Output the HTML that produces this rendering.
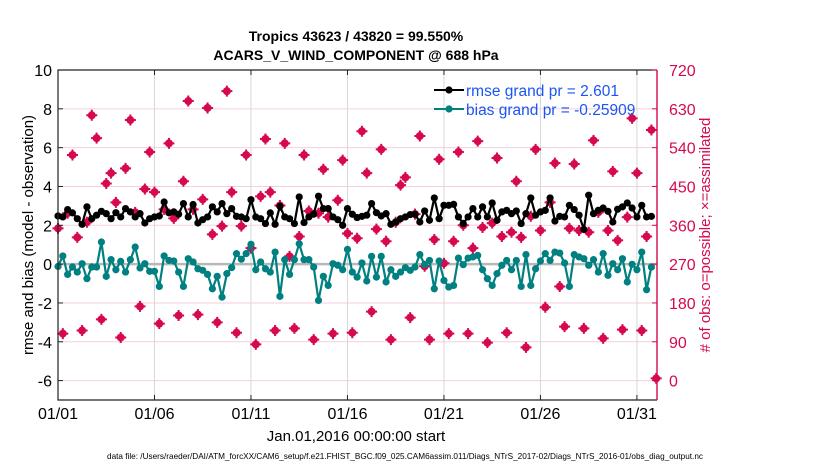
<!DOCTYPE html>
<html><head><meta charset="utf-8"><style>
body{margin:0;background:#fff;}
svg{display:block;font-family:"Liberation Sans",Arial,sans-serif;}
</style></head><body>
<svg id="chart" width="830" height="470" viewBox="0 0 830 470">
<text x="356" y="41" text-anchor="middle" font-size="14" font-weight="bold">Tropics 43623 / 43820 = 99.550%</text>
<text x="356" y="60" text-anchor="middle" font-size="14" font-weight="bold">ACARS_V_WIND_COMPONENT @ 688 hPa</text>
<g id="grid"></g>
<g id="marks"></g>
<g id="axes"></g>
<text transform="translate(33,235) rotate(-90)" text-anchor="middle" font-size="15">rmse and bias (model - observation)</text>
<text transform="translate(710,235) rotate(-90)" text-anchor="middle" font-size="15" fill="#d6094f"># of obs: o=possible; ×=assimilated</text>
<text x="356" y="441" text-anchor="middle" font-size="15">Jan.01,2016 00:00:00 start</text>
<text x="405" y="459" text-anchor="middle" font-size="8.2" textLength="596" lengthAdjust="spacingAndGlyphs">data file: /Users/raeder/DAI/ATM_forcXX/CAM6_setup/f.e21.FHIST_BGC.f09_025.CAM6assim.011/Diags_NTrS_2017-02/Diags_NTrS_2016-01/obs_diag_output.nc</text>
<g>
<line x1="434" y1="90" x2="464" y2="90" stroke="#000" stroke-width="2"/>
<circle cx="449" cy="90" r="3.6" fill="#000"/>
<text x="466" y="96" font-size="15.5" fill="#1a55f5">rmse grand pr = 2.601</text>
<line x1="434" y1="109" x2="464" y2="109" stroke="#008080" stroke-width="2"/>
<circle cx="449" cy="109" r="3.6" fill="#008080"/>
<text x="466" y="115" font-size="15.5" fill="#1a55f5">bias grand pr = -0.25909</text>
</g>
</svg>
<script>
const rmse=[2.48,2.43,2.81,2.64,2.34,2.05,2.95,2.34,2.52,2.72,2.6,2.34,2.65,2.43,2.86,2.69,2.43,2.6,2.12,2.34,2.43,2.48,3.2,2.64,
2.69,2.57,3.12,2.43,3.07,2.12,2.29,2.43,2.95,2.69,3.12,2.6,2.86,2.46,2.43,2.34,3.32,2.43,2.34,2.09,2.64,2.05,2.98,2.43,2.34,2.09,
3.46,2.14,2.43,2.57,3.5,2.86,2.86,2.43,2.29,2.0,2.86,2.57,2.4,2.46,2.52,3.12,2.65,2.48,2.6,2.05,2.17,2.34,2.43,2.55,2.57,
2.17,2.74,2.26,3.41,2.34,3.03,3.03,3.08,2.43,2.09,2.43,2.86,2.43,2.95,2.43,3.15,2.26,2.69,2.77,2.6,2.74,2.09,2.6,3.41,2.52,
2.69,2.77,3.41,2.22,2.46,2.43,3.03,2.81,2.52,1.79,3.55,2.6,2.77,2.89,2.72,2.17,2.83,2.95,3.15,2.89,2.43,3.03,2.43,2.46];
const bias=[-0.12,0.42,-0.53,-0.15,-0.41,0.02,-0.75,-0.15,-0.15,1.14,-0.63,0.23,-0.29,0.14,-0.41,0.23,0.88,-0.2,0.02,-0.37,-0.37,-1.15,0.42,0.19,
0.16,-0.41,-1.15,0.28,0.11,-0.24,-0.32,-0.53,-1.27,-0.63,-1.7,-0.49,-0.18,0.54,0.25,0.54,1.02,-0.29,0.11,-0.24,-0.41,0.62,-1.66,0.23,-0.53,0.23,
1.05,0.23,0.23,-0.15,-1.87,-0.63,-1.1,0.02,-0.06,-0.29,0.76,-0.41,-0.67,0.06,-0.87,0.4,-0.67,0.4,-0.92,-0.29,-0.63,-0.41,-0.18,-0.32,-0.15,
0.49,-0.03,0.19,-1.27,0.16,-0.84,-1.18,-1.1,0.31,-0.03,0.31,0.37,0.45,-0.29,-0.75,-1.1,-0.49,-0.06,0.19,-0.29,0.19,-1.15,0.49,-1.1,-0.24,
0.16,0.54,0.19,0.62,0.57,0.06,-1.15,0.49,0.37,0.28,-0.06,0.23,-0.41,0.54,-0.58,0.02,-0.29,0.28,-0.92,-0.01,-0.29,0.62,-1.32,-0.15];
const nobs=[353,109,388,523,332,116,367,615,562,142,457,481,413,100,492,604,390,172,444,530,437,132,397,550,
376,151,462,648,397,153,420,632,339,135,358,671,437,111,358,523,307,84,427,560,437,116,406,550,288,121,
334,523,393,95,388,490,379,109,418,511,341,111,330,578,481,160,351,536,323,95,367,453,471,146,386,
567,265,95,327,513,272,109,323,530,360,109,307,555,355,88,365,516,334,111,344,462,332,77,381,536,
348,170,413,504,218,125,353,502,348,121,344,557,390,98,348,485,325,118,379,608,481,116,334,581,5];
const leftTicks=[-6,-4,-2,0,2,4,6,8,10];
const rightTicks=[0,90,180,270,360,450,540,630,720];
const xTickLabels=["01/01","01/06","01/11","01/16","01/21","01/26","01/31"];
const xTickDays=[1,6,11,16,21,26,31];

const X0=58,X1=657,Y0=70,Y1=400;
const dayMin=1,dayMax=32.04;
const xs=d=>X0+(d-dayMin)/(dayMax-dayMin)*(X1-X0);
const yl=v=>Y0+(10-v)/17*(Y1-Y0);
const yr=v=>yl(v/45-6);
const tday=k=>1+k/4;
const NS="http://www.w3.org/2000/svg";
function mk(tag,parent,attrs){const e=document.createElementNS(NS,tag);for(const k in attrs)e.setAttribute(k,attrs[k]);parent.appendChild(e);return e;}
const grid=document.getElementById('grid'),marks=document.getElementById('marks'),axes=document.getElementById('axes');

rightTicks.forEach(t=>{if(t===270)return;const l=mk('line',grid,{x1:X0,x2:X1,y1:yr(t),y2:yr(t),stroke:'#f6cfdc','stroke-width':1});

});
xTickDays.forEach(d=>{const l=mk('line',grid,{x1:xs(d),x2:xs(d),y1:Y0,y2:Y1,stroke:'#d8d8d8','stroke-width':1});

});
const zl=mk('line',grid,{x1:X0,x2:X1,y1:yl(0),y2:yl(0),stroke:'#b8b8b8','stroke-width':2.5});



nobs.forEach((v,k)=>{const g=mk('g',marks,{});


const cx=xs(tday(k)),cy=yr(v);
mk('circle',g,{cx:cx,cy:cy,r:4,fill:'#d6094f'});
mk('path',g,{d:`M${cx-5.5} ${cy}H${cx+5.5}M${cx} ${cy-5.5}V${cy+5.5}`,stroke:'#d6094f','stroke-width':2});});

function series(vals,color,name){
 const pts=vals.map((v,k)=>xs(tday(k)).toFixed(1)+','+yl(v).toFixed(1)).join(' ');
 const pl=mk('polyline',marks,{points:pts,fill:'none',stroke:color,'stroke-width':2.2,'stroke-linejoin':'round'});
 
 
 vals.forEach((v,k)=>{const c=mk('circle',marks,{cx:xs(tday(k)),cy:yl(v),r:3.6,fill:color});
 
 });
}
series(bias,'#008080','bias');
series(rmse,'#000000','rmse');

const f1=mk('path',axes,{d:`M${X1} ${Y0}H${X0}V${Y1}H${X1}`,fill:'none',stroke:'#222','stroke-width':1.2});


const f2=mk('line',axes,{x1:X1,x2:X1,y1:Y0,y2:Y1,stroke:'#d6094f','stroke-width':1.4});


leftTicks.forEach(t=>{mk('line',axes,{x1:X0,x2:X0+5,y1:yl(t),y2:yl(t),stroke:'#222'});
const tx=mk('text',axes,{x:X0-6,y:yl(t)+6,'text-anchor':'end','font-size':16});tx.textContent=t;

});
rightTicks.forEach(t=>{mk('line',axes,{x1:X1-5,x2:X1,y1:yr(t),y2:yr(t),stroke:'#d6094f'});
const tx=mk('text',axes,{x:X1+12,y:yr(t)+6,'font-size':16,fill:'#d6094f'});tx.textContent=t;

});
xTickDays.forEach((d,i)=>{mk('line',axes,{x1:xs(d),x2:xs(d),y1:Y1,y2:Y1-5,stroke:'#222'});
mk('line',axes,{x1:xs(d),x2:xs(d),y1:Y0,y2:Y0+5,stroke:'#222'});
const tx=mk('text',axes,{x:xs(d),y:Y1+19,'text-anchor':'middle','font-size':16});tx.textContent=xTickLabels[i];

});
</script>
</body></html>
